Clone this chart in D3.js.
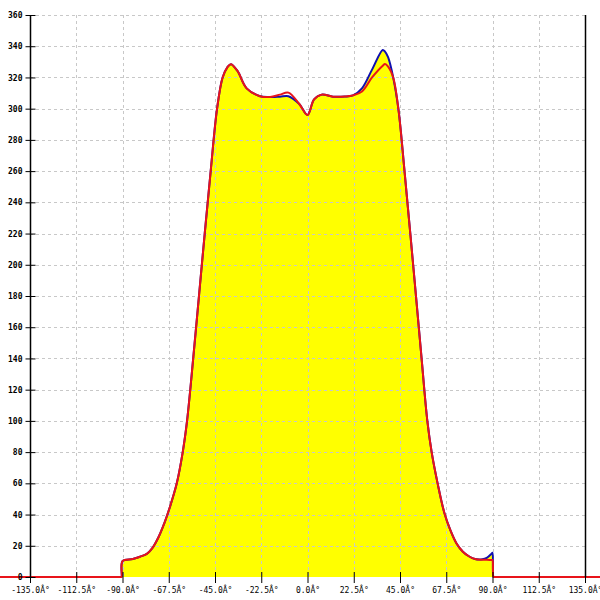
<!DOCTYPE html>
<html><head><meta charset="utf-8">
<script src="https://cdn.jsdelivr.net/npm/d3@7"></script>
<style>body{margin:0;background:#fff}svg{display:block}</style>
</head><body>
<svg id="c" width="600" height="600"></svg>
<script>
const angles = [-150,-91,-90.5,-90,-85,-81.5,-78,-75.5,-72.5,-69.5,-66.9,-63.6,-60.7,-58.6,-55.6,-52.8,-50.0,-47.1,-44.0,-41.3,-39,-37.2,-34,-29.6,-23.1,-18.2,-13.4,-9.3,-4,0,3.2,6.9,12.4,18.2,22.1,26.5,31.4,36.6,37.7,39.2,41.7,44.2,47.2,51.4,55.5,58.3,60.4,63.3,66.6,69.5,72.5,75.6,78.5,81.5,85,87.2,89.6,90,90.5,91,150];
const redValues  = [0,0,0,10.2,11.5,13,15,18.5,25.5,35,45,60,80,100,140,180,220,260,300,320,326.5,328.5,324,313,308,307.5,309,310.3,303,296,306,309,307.7,307.8,308.5,311,320,327.5,328.6,327,320,300,260,200,140,100,80,60,41,30,21.5,16.2,13.3,11.5,11,11,10.9,10.9,0,0,0];
const blueValues = [0,0,0,10.2,11.5,13,15,18.5,25.5,35,45,60,80,100,140,180,220,260,300,320,326.5,328.5,324,313,308,307.5,307.7,308,303,296,306,309,307.7,307.8,308.5,313,325,337.6,336.5,333,320,300,260,200,140,100,80,60,41,30,21.5,16.2,13.3,11.5,11.3,12.2,15,15.6,0,0,0];
const xTicks = [-135,-112.5,-90,-67.5,-45,-22.5,0,22.5,45,67.5,90,112.5,135];
const yTicks = [0,20,40,60,80,100,120,140,160,180,200,220,240,260,280,300,320,340,360];

const svg = d3.select("#c");
const L=30, R=585, T=15, B=577;
const x = d3.scaleLinear().domain([-135,135]).range([L,R]);
const y = d3.scaleLinear().domain([0,360]).range([B,T]);
const red = angles.map((a,i)=>[a,redValues[i]]);
const blue = angles.map((a,i)=>[a,blueValues[i]]);
const curve = d3.curveCatmullRom.alpha(0.5);

svg.append("path").datum(blue)
  .attr("d", d3.area().x(d=>x(d[0])).y0(y(0)).y1(d=>y(Math.max(0,d[1]))).curve(curve))
  .attr("fill","#ffff00");

const grid = svg.append("g").attr("stroke","#c8c8c8").attr("stroke-dasharray","3,3").attr("stroke-width",1);
xTicks.forEach(t=>grid.append("line").attr("x1",Math.round(x(t))+0.5).attr("x2",Math.round(x(t))+0.5).attr("y1",T).attr("y2",B));
yTicks.filter(t=>t>0).forEach(t=>grid.append("line").attr("x1",L).attr("x2",R).attr("y1",Math.round(y(t))+0.5).attr("y2",Math.round(y(t))+0.5));

svg.append("path").datum(blue)
  .attr("d", d3.line().x(d=>x(d[0])).y(d=>y(d[1])).curve(curve))
  .attr("fill","none").attr("stroke","#1010b0").attr("stroke-width",2);
svg.append("path").datum(red)
  .attr("d", d3.line().x(d=>x(d[0])).y(d=>y(d[1])).curve(curve))
  .attr("fill","none").attr("stroke","#e8141a").attr("stroke-width",2);

// axes
const yAxis = d3.axisLeft(y).tickValues(yTicks).tickSize(5).tickFormat(d3.format("d"));
const ga = svg.append("g").attr("transform",`translate(${L+0.5},0)`).call(yAxis);
ga.select(".domain").remove();
ga.selectAll(".tick line").attr("x2",5).attr("x1",-5).attr("stroke","#000");
ga.selectAll(".tick text").attr("x",-8).attr("font-family","DejaVu Sans Mono").attr("font-size",8).attr("font-weight","bold").attr("fill","#000");

const xAxis = d3.axisBottom(x).tickValues(xTicks).tickSize(5).tickFormat(d=>d3.format(".1f")(d).replace("−","-")+"Â°");
const gx = svg.append("g").attr("transform",`translate(0,${B})`).call(xAxis);
gx.select(".domain").remove();
gx.selectAll(".tick line").attr("y1",-5).attr("y2",6).attr("stroke","#000");
gx.selectAll(".tick text").attr("y",10).attr("font-family","DejaVu Sans Mono").attr("font-size",8).attr("fill","#000");

svg.append("line").attr("x1",L+0.5).attr("x2",L+0.5).attr("y1",T).attr("y2",B).attr("stroke","#000").attr("stroke-width",1.5);
svg.append("line").attr("x1",R+0.5).attr("x2",R+0.5).attr("y1",T).attr("y2",B).attr("stroke","#000").attr("stroke-width",1.5);
</script>
</body></html>
